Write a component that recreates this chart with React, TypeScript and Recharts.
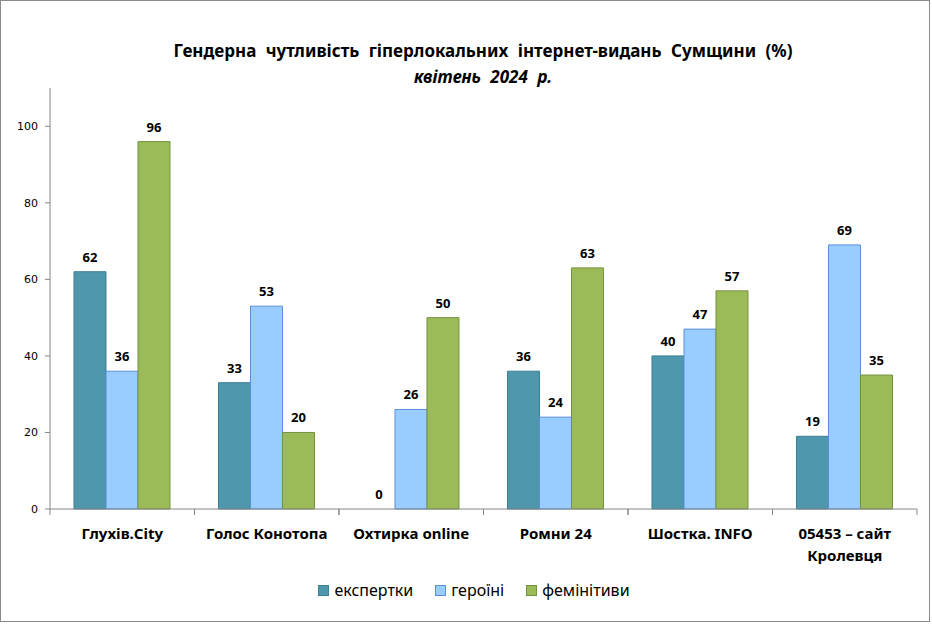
import React from "react";
import {
	Bar,
	BarChart,
	LabelList,
	Legend,
	Rectangle,
	XAxis,
	YAxis,
} from "recharts";

const categories = [
	"Глухів.City",
	"Голос Конотопа",
	"Охтирка online",
	"Ромни 24",
	"Шостка. INFO",
	"05453 – сайт\nКролевця",
];
const experts = [62, 33, 0, 36, 40, 19];
const heroines = [36, 53, 26, 24, 47, 69];
const feminitives = [96, 20, 50, 63, 57, 35];
const yTicks = [0, 20, 40, 60, 80, 100];

const series = [
	{ key: "experts", name: "експертки", fill: "#4f97ac", stroke: "#3b7f93" },
	{ key: "heroines", name: "героїні", fill: "#99ccff", stroke: "#5b8fdc" },
	{ key: "feminitives", name: "фемінітиви", fill: "#9bbb59", stroke: "#76923f" },
];

const data = categories.map((name, i) => ({
	name,
	experts: experts[i],
	heroines: heroines[i],
	feminitives: feminitives[i],
}));

const FONT = "'Noto Sans', sans-serif";
const TICK_SIZE = 0;
const TICK_MARGIN = 20;

const CategoryTick = (props: any) => {
	const { x, y, payload } = props;
	const half = payload.offset ?? 72;
	const axisY = y - TICK_SIZE - TICK_MARGIN;
	const lines = String(payload.value).split("\n");
	return (
		<g>
			<line x1={x - half} x2={x - half} y1={axisY} y2={axisY + 6} stroke="#868686" />
			<line x1={x + half} x2={x + half} y1={axisY} y2={axisY + 6} stroke="#868686" />
			{lines.map((l, i) => (
				<text
					key={i}
					x={x}
					y={y + 10 + i * 22}
					textAnchor="middle"
					fontFamily={FONT}
					fontWeight="bold"
					fontSize={15}
					fill="#000"
				>
					{l}
				</text>
			))}
		</g>
	);
};

// value label drawn above each bar
const ValueLabel = (props: any) => {
	const { x, y, width, value } = props;
	if (value == null) return null;
	return (
		<text
			x={Number(x) + Number(width) / 2}
			y={Number(y) - 10}
			textAnchor="middle"
			fontFamily={FONT}
			fontWeight="bold"
			fontSize={13}
			fill="#000"
		>
			{value}
		</text>
	);
};

// zero values get a tiny invisible bar so the "0" label is still drawn
const BarShape = (props: any) => {
	if (Math.abs(props.height) < 0.5) return <g />;
	return <Rectangle {...props} />;
};
const minSize = (value: number) => (value === 0 ? 0.1 : 0);

const LegendContent = () => (
	<div
		style={{
			display: "flex",
			justifyContent: "center",
			fontFamily: FONT,
			fontSize: 16,
			color: "#000",
			paddingLeft: 16,
		}}
	>
		{series.map((s) => (
			<div key={s.key} style={{ display: "flex", alignItems: "center", margin: "0 11px" }}>
				<span
					style={{
						width: 9,
						height: 9,
						background: s.fill,
						border: `1px solid ${s.stroke}`,
						marginRight: 5,
						display: "inline-block",
					}}
				/>
				<span>{s.name}</span>
			</div>
		))}
	</div>
);

export default function App() {
	return (
		<div style={{ position: "absolute", left: 0, top: 0, width: 932, height: 624, background: "#fff" }}>
			<div
				style={{
					position: "absolute",
					left: 0,
					top: 0,
					width: 928,
					height: 620,
					border: "1px solid #8a8a8a",
					pointerEvents: "none",
				}}
			/>
			<div
				style={{
					position: "absolute",
					left: 0,
					top: 38,
					width: 966,
					textAlign: "center",
					fontFamily: FONT,
					fontWeight: "bold",
					fontSize: 17,
					lineHeight: "26px",
					color: "#000",
					wordSpacing: 5,
				}}
			>
				<div>Гендерна чутливість гіперлокальних інтернет-видань Сумщини (%)</div>
				<div style={{ fontStyle: "italic" }}>квітень 2024 р.</div>
			</div>
			<BarChart
				width={932}
				height={624}
				data={data}
				margin={{ top: 88, right: 15, left: 0, bottom: 0 }}
				barCategoryGap="16.6%"
				barGap={0}
				style={{ position: "absolute", left: 0, top: 0 }}
			>
				<XAxis
					dataKey="name"
					height={115}
					interval={0}
					tickLine={false}
					tickSize={TICK_SIZE}
					tickMargin={TICK_MARGIN}
					axisLine={{ stroke: "#868686" }}
					tick={<CategoryTick />}
				/>
				<YAxis
					width={50}
					domain={[0, 110]}
					ticks={yTicks}
					tickSize={5}
					tickMargin={7}
					axisLine={{ stroke: "#868686" }}
					tickLine={{ stroke: "#868686" }}
					tick={{ fontFamily: "'DejaVu Sans', sans-serif", fontSize: 11, fill: "#000" }}
				/>
				<Legend
					verticalAlign="middle"
					align="center"
					content={<LegendContent />}
					wrapperStyle={{ top: 579, left: 0, width: 932 }}
				/>
				{series.map((s) => (
					<Bar
						key={s.key}
						dataKey={s.key}
						name={s.name}
						fill={s.fill}
						stroke={s.stroke}
						strokeWidth={1}
						minPointSize={minSize as any}
						shape={<BarShape />}
						isAnimationActive={false}
					>
						<LabelList dataKey={s.key} content={<ValueLabel />} />
					</Bar>
				))}
			</BarChart>
		</div>
	);
}
